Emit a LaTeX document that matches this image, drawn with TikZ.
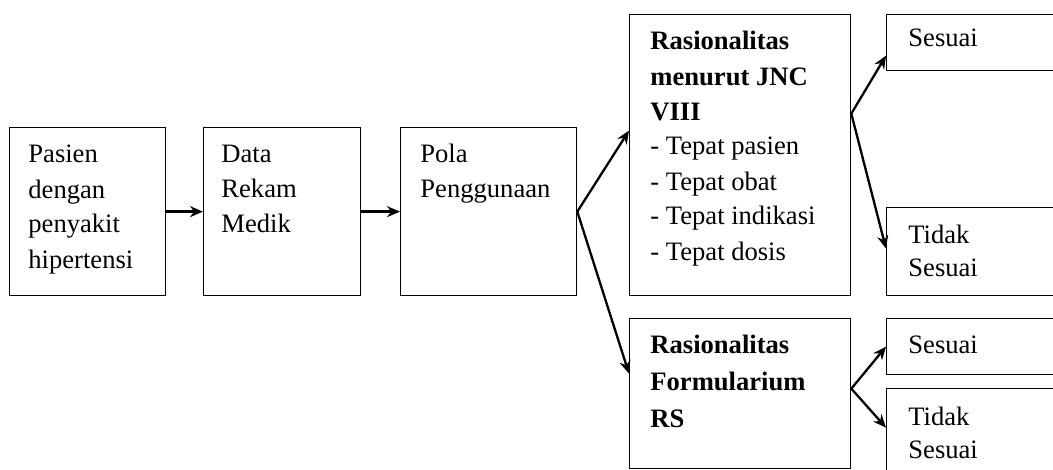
\documentclass[tikz,border=0pt]{standalone}
\usepackage{fontspec}
\setmainfont{Liberation Serif}
\usetikzlibrary{arrows.meta}
\tikzset{
  kotak/.style={draw, line width=0.65pt, anchor=north west, inner sep=0pt},
  isi/.style={anchor=base west, align=left, inner sep=0pt, font=\fontsize{13.3}{17.5}\selectfont},
  hasil/.style={isi, font=\fontsize{13.3}{16.25}\selectfont},
  panah/.style={-{Stealth[length=6.5pt,width=5.5pt]}, line width=1.15pt}
}
\begin{document}
\begin{tikzpicture}[x=0.5pt,y=-0.5pt]
\useasboundingbox (0,0) rectangle (1053,470);
% kotak utama
\node[kotak, minimum width=78pt, minimum height=84pt] (pasien) at (9,127) {};
\node[kotak, minimum width=78.5pt, minimum height=84pt] (rekam) at (203,127) {};
\node[kotak, minimum width=88pt, minimum height=84pt] (pola) at (400,127) {};
\node[kotak, minimum width=110.5pt, minimum height=140.5pt] (jnc) at (629,14) {};
\node[kotak, minimum width=110.5pt, minimum height=75pt] (form) at (629,318) {};
% kotak hasil
\node[kotak, minimum width=107pt, minimum height=28pt] (sesA) at (886,14) {};
\node[kotak, minimum width=107pt, minimum height=44pt] (tidA) at (886,207) {};
\node[kotak, minimum width=107pt, minimum height=28pt] (sesB) at (886,318) {};
\node[kotak, minimum width=107pt, minimum height=44pt] (tidB) at (886,388) {};
% teks (anchor = baris terakhir)
\node[isi] (tpasien) at (28,268) {Pasien\\dengan\\penyakit\\hipertensi};
\node[isi] (trekam) at (221,233) {Data\\Rekam\\Medik};
\node[isi] (tpola) at (420,198) {Pola\\Penggunaan};
\node[isi] (tjnc) at (650,260) {\textbf{Rasionalitas}\\\textbf{menurut JNC}\\\textbf{VIII}\\- Tepat pasien\\- Tepat obat\\- Tepat indikasi\\- Tepat dosis};
\node[isi, font=\fontsize{13.3}{18.5}\selectfont] (tform) at (650,427) {\textbf{Rasionalitas}\\\textbf{Formularium}\\\textbf{RS}};
\node[hasil] (tsesA) at (908,47) {Sesuai};
\node[hasil] (ttidA) at (908,276) {Tidak\\Sesuai};
\node[hasil] (tsesB) at (908,353) {Sesuai};
\node[hasil] (ttidB) at (908,458) {Tidak\\Sesuai};
% panah
\draw[panah] (pasien.east) -- (rekam.west);
\draw[panah] (rekam.east) -- (pola.west);
\draw[panah] (pola.east) -- ([yshift=12.25pt]jnc.west);
\draw[panah] (pola.east) -- ([yshift=10pt]form.west);
\draw[panah] ([yshift=20.75pt]jnc.east) -- ([yshift=-6.5pt]sesA.west);
\draw[panah] ([yshift=20.75pt]jnc.east) -- ([yshift=1.5pt]tidA.west);
\draw[panah] ([yshift=2.5pt]form.east) -- (sesB.west);
\draw[panah] ([yshift=2.5pt]form.east) -- ([yshift=2.5pt]tidB.west);
\end{tikzpicture}
\end{document}
